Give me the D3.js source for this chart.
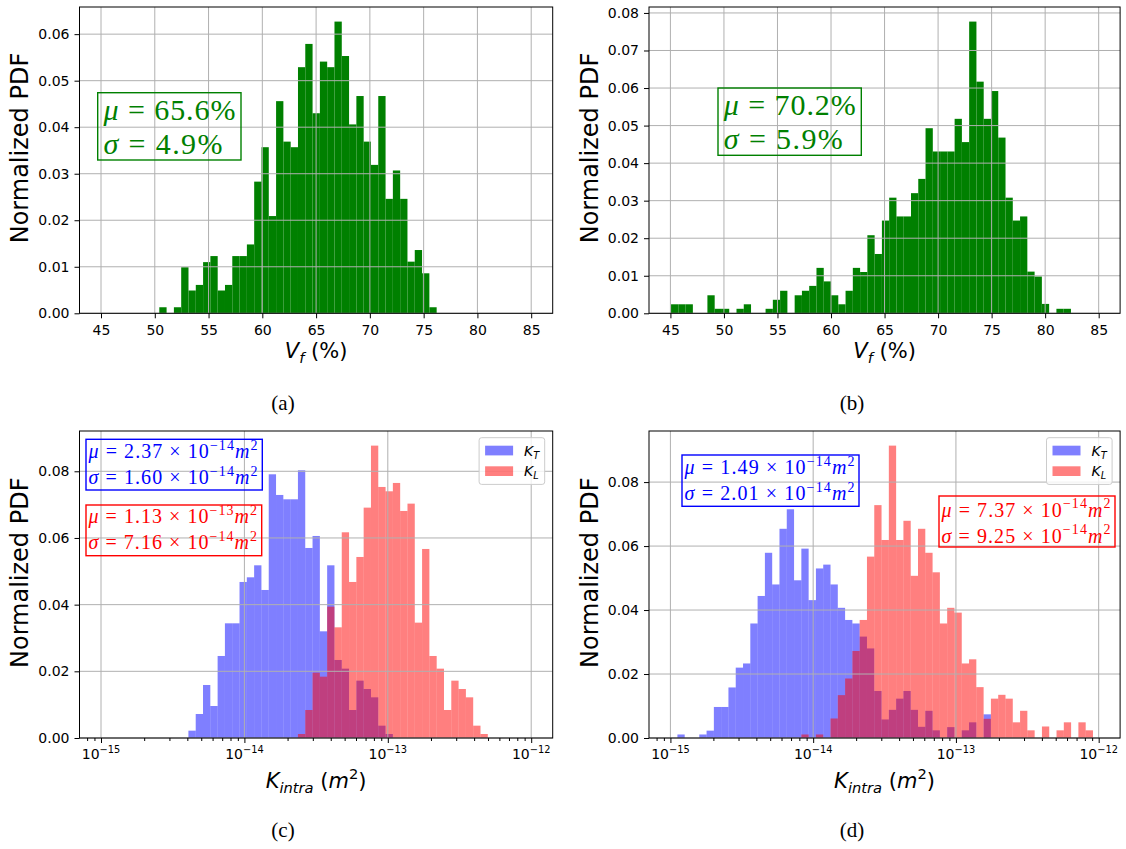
<!DOCTYPE html>
<html>
<head>
<meta charset="utf-8">
<script src="https://cdn.jsdelivr.net/npm/d3@7"></script>
<style>
  body { margin: 0; background: #fff; }
  svg text { font-family: "DejaVu Sans", sans-serif; }
  .serif { font-family: "Liberation Serif", serif; }
</style>
</head>
<body>
<div id="fig"></div>
<script>
// ---------------- data ----------------
// (a) fibre volume fraction, fraction of samples per bin
const vfA = [0.0013, 0, 0.0013, 0.0099, 0.0049, 0.0061, 0.011, 0.0123, 0.0049, 0.0061,
  0.0123, 0.0123, 0.0148, 0.0283, 0.0357, 0.0209, 0.0456, 0.0369, 0.0357, 0.0529,
  0.0579, 0.043, 0.0541, 0.0529, 0.0627, 0.0553, 0.0406, 0.0467, 0.0369, 0.0319,
  0.0467, 0.0246, 0.0307, 0.0246, 0.0111, 0.0136, 0.0086, 0.0013];
const vfAEdges = [50.42, 76.21];

// (b)
const vfB = [0.0024, 0.0024, 0.0024, 0, 0, 0.0048, 0.0012, 0.0012, 0, 0.0012,
  0.0024, 0, 0, 0.0012, 0.0036, 0.006, 0, 0.0048, 0.006, 0.0073,
  0.0121, 0.0085, 0.0048, 0.0024, 0.006, 0.0121, 0.011, 0.0208, 0.0158, 0.0247,
  0.0308, 0.0258, 0.0258, 0.032, 0.0358, 0.0493, 0.0431, 0.0431, 0.0431, 0.0518,
  0.0456, 0.0777, 0.0617, 0.0518, 0.0592, 0.0468, 0.0308, 0.0247, 0.0258, 0.0111,
  0.0098, 0.0025, 0, 0.0012, 0.0012];
const vfBEdges = [45.06, 82.41];

// (c) permeability, log10 bins shared by K_T and K_L
const cLogEdges = [-14.3905, -12.3026];
const cBins = 41;
const kTc = [0.0022, 0.0072, 0.0159, 0.0096, 0.0246, 0.0344, 0.0344, 0.0468, 0.0482, 0.0518,
  0.0444, 0.0791, 0.0729, 0.0716, 0.0716, 0.0803, 0.057, 0.0606, 0.032, 0.0518,
  0.0234, 0.0208, 0.0084, 0.0172, 0.0147, 0.0122, 0.0037, 0.0012];
const kLcStart = 15;
const kLc = [0.0012, 0.0084, 0.0196, 0.0184, 0.0394, 0.0332, 0.0617, 0.0468, 0.0543, 0.0691,
  0.0877, 0.0753, 0.074, 0.0765, 0.0681, 0.0703, 0.0346, 0.0567, 0.0246, 0.0208,
  0.0084, 0.0172, 0.0147, 0.0122, 0.0037, 0.0012];

// (d)
const dLogEdges = [-14.951, -12.040];
const dBins = 57;
const kTd = [0.0011, 0, 0, 0.0011, 0.0023, 0.0097, 0.0097, 0.0158, 0.022, 0.0233,
  0.0358, 0.0444, 0.0579, 0.048, 0.0654, 0.0715, 0.0493, 0.0592, 0.0431, 0.053,
  0.0542, 0.048, 0.0407, 0.0369, 0.0358, 0.0317, 0.028, 0.0147, 0.0058, 0.0088,
  0.0123, 0.0147, 0.0088, 0.0035, 0.0085, 0.0024, 0, 0.0034, 0, 0.0024,
  0.0049, 0, 0.0074];
const kLdStart = 17;
const kLd = [0.0011, 0, 0.0011, 0, 0.0061, 0.0134, 0.0186, 0.0272, 0.0369, 0.0567,
  0.0728, 0.0619, 0.0914, 0.0619, 0.0679, 0.0507, 0.0654, 0.0579, 0.0518, 0.0358,
  0.0407, 0.0392, 0.0233, 0.0246, 0.0159, 0.006, 0.0123, 0.0135, 0.0123, 0.0049,
  0.0085, 0.0024, 0, 0.0036, 0, 0.0024, 0.0049, 0, 0.0049, 0.0024];

// ticks
const vfTicks = [45, 50, 55, 60, 65, 70, 75, 80, 85];
const logTicks = [-15, -14, -13, -12];
const yTicksA = [0, 0.01, 0.02, 0.03, 0.04, 0.05, 0.06];
const yTicksB = [0, 0.01, 0.02, 0.03, 0.04, 0.05, 0.06, 0.07, 0.08];
const yTicksK = [0, 0.02, 0.04, 0.06, 0.08];

// statistics printed in the boxes
const statsA = ['65.6', '4.9'];
const statsB = ['70.2', '5.9'];
const statsCT = ['2.37', '\u221214', '1.60', '\u221214'];
const statsCL = ['1.13', '\u221213', '7.16', '\u221214'];
const statsDT = ['1.49', '\u221214', '2.01', '\u221214'];
const statsDL = ['7.37', '\u221214', '9.25', '\u221214'];

// ---------------- drawing ----------------
const svg = d3.select('#fig').append('svg')
    .attr('width', 1126)
    .attr('height', 849);

// write a line of mixed text: segments [text, style], style in '', 'i', 'sub', 'sup'
function mathText(sel, segs, fs) {
  let shift = 0;
  segs.forEach(([t, st]) => {
    const target = st === 'sub' ? 0.22 * fs : st === 'sup' ? -0.42 * fs : 0;
    const ts = sel.append('tspan').text(t);
    if (target !== shift) ts.attr('dy', target - shift);
    shift = target;
    if (st === 'sub' || st === 'sup') ts.attr('font-size', 0.7 * fs);
    if (st === 'i' || st === 'sub') ts.attr('font-style', 'italic');
  });
  return sel;
}

const pctLine = (sym, v) => [[sym, 'i'], [' = ' + v + '%', '']];
const sciLine = (sym, m, e) => [[sym, 'i'], [' = ' + m + ' \u00d7 10', ''], [e, 'sup'], ['m', 'i'], ['2', 'sup']];

class Histogram {
  constructor(_config, _series) {
    this.config = _config;
    this.series = _series;
    this.initVis();
  }

  initVis() {
    let vis = this;
    const c = vis.config;
    vis.width = c.right - c.left;
    vis.height = c.bottom - c.top;

    vis.xScale = c.log
        ? d3.scaleLog().domain(c.xDomain.map(e => Math.pow(10, e)))
        : d3.scaleLinear().domain(c.xDomain);
    vis.xScale.range([0, vis.width]);

    // matplotlib style autoscale: 5% headroom above the tallest bar
    const ymax = d3.max(vis.series, s => d3.max(s.values)) * 1.05;
    vis.yScale = d3.scaleLinear().domain([0, ymax]).range([vis.height, 0]);

    vis.chart = svg.append('g')
        .attr('transform', `translate(${c.left},${c.top})`);

    vis.renderVis();
  }

  edgeX(e) {
    return this.xScale(this.config.log ? Math.pow(10, e) : e);
  }

  renderVis() {
    let vis = this;
    const c = vis.config;
    const [lo, hi] = c.edges;
    const bw = (hi - lo) / c.nBins;

    // bars
    vis.series.forEach(s => {
      const bins = s.values.map((v, i) => ({ v: v, i: i + s.start })).filter(d => d.v > 0);
      vis.chart.append('g').selectAll('rect')
          .data(bins)
          .join('rect')
          .attr('x', d => vis.edgeX(lo + d.i * bw))
          .attr('width', d => vis.edgeX(lo + (d.i + 1) * bw) - vis.edgeX(lo + d.i * bw))
          .attr('y', d => vis.yScale(d.v))
          .attr('height', d => vis.height - vis.yScale(d.v))
          .attr('fill', s.fill)
          .attr('fill-opacity', s.opacity);
    });

    // grid sits above the patches, as in matplotlib
    const xMajor = c.log ? c.xTicks.map(e => Math.pow(10, e)) : c.xTicks;
    const grid = vis.chart.append('g')
        .attr('stroke', '#b0b0b0')
        .attr('stroke-width', 1);
    grid.selectAll('.gx').data(xMajor).join('line')
        .attr('x1', d => vis.xScale(d)).attr('x2', d => vis.xScale(d))
        .attr('y1', 0).attr('y2', vis.height);
    grid.selectAll('.gy').data(c.yTicks).join('line')
        .attr('x1', 0).attr('x2', vis.width)
        .attr('y1', d => vis.yScale(d)).attr('y2', d => vis.yScale(d));

    // frame
    vis.chart.append('rect')
        .attr('width', vis.width).attr('height', vis.height)
        .attr('fill', 'none').attr('stroke', '#000').attr('stroke-width', 1);

    // y axis
    vis.chart.append('g')
        .call(d3.axisLeft(vis.yScale).tickValues(c.yTicks)
            .tickFormat(d3.format('.2f')).tickSize(5).tickPadding(5))
        .call(g => g.select('.domain').remove())
        .call(g => g.selectAll('text').attr('font-size', 14)
            .attr('font-family', '"DejaVu Sans", sans-serif').attr('fill', '#000'));

    // x axis
    const xAxisG = vis.chart.append('g')
        .attr('transform', `translate(0,${vis.height})`);
    if (!c.log) {
      xAxisG.call(d3.axisBottom(vis.xScale).tickValues(xMajor).tickSize(5).tickPadding(7))
          .call(g => g.select('.domain').remove())
          .call(g => g.selectAll('text').attr('font-size', 14)
              .attr('font-family', '"DejaVu Sans", sans-serif').attr('fill', '#000'));
    } else {
      const minors = [];
      const [d0, d1] = vis.xScale.domain();
      d3.range(-16, -11).forEach(e => d3.range(2, 10).forEach(k => {
        const v = k * Math.pow(10, e);
        if (v >= d0 && v <= d1) minors.push(v);
      }));
      xAxisG.call(d3.axisBottom(vis.xScale).tickValues(xMajor).tickFormat('').tickSize(5))
          .call(g => g.select('.domain').remove());
      xAxisG.append('g')
          .call(d3.axisBottom(vis.xScale).tickValues(minors).tickFormat('').tickSize(3))
          .call(g => g.select('.domain').remove());
      c.xTicks.forEach(e => {
        const t = xAxisG.append('text')
            .attr('x', vis.xScale(Math.pow(10, e)))
            .attr('y', 20.5)
            .attr('text-anchor', 'middle')
            .attr('font-size', 14)
            .attr('fill', '#000');
        mathText(t, [['10', ''], [String(e).replace('-', '\u2212'), 'sup']], 14);
      });
    }

    // axis labels
    const xl = vis.chart.append('text')
        .attr('x', vis.width / 2)
        .attr('y', c.xLabelY - c.top)
        .attr('text-anchor', 'middle')
        .attr('font-size', 21)
        .attr('fill', '#000');
    mathText(xl, c.xLabel, 21);

    vis.chart.append('text')
        .attr('transform', `translate(-51.5,${vis.height - 70}) rotate(-90)`)
        .attr('text-anchor', 'start')
        .attr('font-size', 24)
        .attr('fill', '#000')
        .text('Normalized PDF');

    // sub-figure caption
    svg.append('text')
        .attr('class', 'serif')
        .attr('x', c.captionX)
        .attr('y', c.captionY)
        .attr('text-anchor', 'middle')
        .attr('font-size', 21)
        .text(c.caption);

    // statistics boxes
    (c.boxes || []).forEach(b => {
      svg.append('rect')
          .attr('x', b.x).attr('y', b.y).attr('width', b.w).attr('height', b.h)
          .attr('fill', 'none').attr('stroke', b.color).attr('stroke-width', 1.4);
      b.lines.forEach((ln, k) => {
        const t = svg.append('text')
            .attr('class', 'serif')
            .attr('x', b.tx)
            .attr('y', b.ty + k * b.lh)
            .attr('font-size', b.fs)
            .attr('fill', b.color)
            .attr('textLength', b.len[k])
            .attr('lengthAdjust', 'spacing');
        mathText(t, ln, b.fs);
      });
    });

    // legend
    if (c.legend) {
      const lw = 65.6, lh = 46.7;
      const lg = vis.chart.append('g')
          .attr('transform', `translate(${vis.width - 8 - lw},6.7)`);
      lg.append('rect')
          .attr('width', lw).attr('height', lh).attr('rx', 2.5)
          .attr('fill', '#fff').attr('fill-opacity', 0.8)
          .attr('stroke', '#cccccc').attr('stroke-width', 1);
      c.legend.forEach((it, k) => {
        lg.append('rect')
            .attr('x', 6).attr('y', 8 + k * 20.6).attr('width', 28).attr('height', 9.7)
            .attr('fill', it.fill).attr('fill-opacity', 0.5);
        const t = lg.append('text')
            .attr('x', 45).attr('y', 18 + k * 20.6)
            .attr('font-size', 14).attr('fill', '#000');
        mathText(t, it.label, 14);
      });
    }
  }
}

const vfLabel = [['V', 'i'], ['f', 'sub'], [' (%)', '']];
const kLabel = [['K', 'i'], ['intra', 'sub'], [' (', ''], ['m', 'i'], ['2', 'sup'], [')', '']];
const kLegend = [
  { fill: '#0000ff', label: [['K', 'i'], ['T', 'sub']] },
  { fill: '#ff0000', label: [['K', 'i'], ['L', 'sub']] }
];

new Histogram({
  left: 79.5, right: 552.7, top: 7, bottom: 313.3,
  log: false, xDomain: [43, 87], xTicks: vfTicks, yTicks: yTicksA,
  edges: vfAEdges, nBins: vfA.length,
  xLabel: vfLabel, xLabelY: 358, caption: '(a)', captionX: 283, captionY: 410,
  boxes: [{ x: 97.7, y: 92.7, w: 143.3, h: 67.3, tx: 103.5, ty: 120, lh: 34, fs: 30,
    color: '#008000', len: [132, 119],
    lines: [pctLine('\u03bc', statsA[0]), pctLine('\u03c3', statsA[1])] }]
}, [{ values: vfA, start: 0, fill: '#008000', opacity: 1 }]);

new Histogram({
  left: 649, right: 1120.1, top: 7, bottom: 313.3,
  log: false, xDomain: [43, 87], xTicks: vfTicks, yTicks: yTicksB,
  edges: vfBEdges, nBins: vfB.length,
  xLabel: vfLabel, xLabelY: 358, caption: '(b)', captionX: 852, captionY: 410,
  boxes: [{ x: 718, y: 88, w: 143.3, h: 67.3, tx: 723.8, ty: 115.3, lh: 34, fs: 30,
    color: '#008000', len: [132, 119],
    lines: [pctLine('\u03bc', statsB[0]), pctLine('\u03c3', statsB[1])] }]
}, [{ values: vfB, start: 0, fill: '#008000', opacity: 1 }]);

new Histogram({
  left: 79.5, right: 552.7, top: 431, bottom: 738,
  log: true, xDomain: [-15.15, -11.85], xTicks: logTicks, yTicks: yTicksK,
  edges: cLogEdges, nBins: cBins,
  xLabel: kLabel, xLabelY: 788, caption: '(c)', captionX: 283, captionY: 837,
  legend: kLegend,
  boxes: [
    { x: 86, y: 439.3, w: 176.3, h: 50.7, tx: 88.5, ty: 457.9, lh: 26.3, fs: 20,
      color: '#0000ff', len: [169, 169],
      lines: [sciLine('\u03bc', statsCT[0], statsCT[1]), sciLine('\u03c3', statsCT[2], statsCT[3])] },
    { x: 86, y: 505, w: 175.7, h: 50.7, tx: 88.5, ty: 523, lh: 26.3, fs: 20,
      color: '#ff0000', len: [168.5, 168.5],
      lines: [sciLine('\u03bc', statsCL[0], statsCL[1]), sciLine('\u03c3', statsCL[2], statsCL[3])] }
  ]
}, [
  { values: kTc, start: 0, fill: '#0000ff', opacity: 0.5 },
  { values: kLc, start: kLcStart, fill: '#ff0000', opacity: 0.5 }
]);

new Histogram({
  left: 649, right: 1120.1, top: 431, bottom: 738,
  log: true, xDomain: [-15.15, -11.85], xTicks: logTicks, yTicks: yTicksK,
  edges: dLogEdges, nBins: dBins,
  xLabel: kLabel, xLabelY: 788, caption: '(d)', captionX: 852, captionY: 837,
  legend: kLegend,
  boxes: [
    { x: 682, y: 455, w: 177, h: 51.3, tx: 684.5, ty: 474, lh: 26.3, fs: 20,
      color: '#0000ff', len: [170, 170],
      lines: [sciLine('\u03bc', statsDT[0], statsDT[1]), sciLine('\u03c3', statsDT[2], statsDT[3])] },
    { x: 939, y: 496, w: 176, h: 51, tx: 941.5, ty: 516.5, lh: 26.3, fs: 20,
      color: '#ff0000', len: [169, 169],
      lines: [sciLine('\u03bc', statsDL[0], statsDL[1]), sciLine('\u03c3', statsDL[2], statsDL[3])] }
  ]
}, [
  { values: kTd, start: 0, fill: '#0000ff', opacity: 0.5 },
  { values: kLd, start: kLdStart, fill: '#ff0000', opacity: 0.5 }
]);
</script>
</body>
</html>
